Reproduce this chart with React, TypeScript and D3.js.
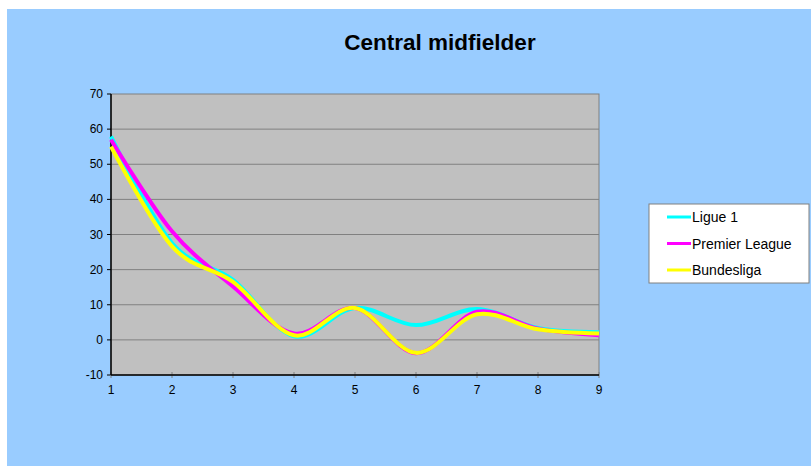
import React from 'react';
import * as d3 from 'd3';

const categories = [1, 2, 3, 4, 5, 6, 7, 8, 9];
const ligue1 = [57.9, 27.6, 17.1, 1.0, 9.1, 4.2, 8.8, 3.4, 2.2];
const premierLeague = [57, 30.9, 15.2, 1.8, 9.1, -3.8, 8.0, 3.2, 1.3];
const bundesliga = [55, 26.6, 16.5, 1.3, 9.1, -3.7, 7.3, 3.0, 1.8];
const yTicks = [-10, 0, 10, 20, 30, 40, 50, 60, 70];

const seriesList = [
  { name: 'Ligue 1', values: ligue1, color: '#00FFFF' },
  { name: 'Premier League', values: premierLeague, color: '#FF00FF' },
  { name: 'Bundesliga', values: bundesliga, color: '#FFFF00' },
];

const W = 804;
const H = 457;
const offX = 7;
const offY = 9;
const plot = { left: 111 - offX, top: 94 - offY, right: 599 - offX, bottom: 375 - offY };

const App: React.FC = () => {
  const x = d3.scaleLinear().domain([1, 9]).range([plot.left, plot.right]);
  const y = d3.scaleLinear().domain([-10, 70]).range([plot.bottom, plot.top]);
  const line = d3
    .line<number>()
    .x((_, i) => x(categories[i]))
    .y(d => y(d))
    .curve(d3.curveCardinal.tension(0));

  const font = "'Liberation Sans', Arial, sans-serif";
  const lg = { x: 649 - offX, y: 204 - offY, w: 160, h: 79 };

  return (
    <div style={{ position: 'fixed', left: offX, top: offY, width: W, height: H }}>
      <svg width={W} height={H} style={{ display: 'block' }} fontFamily={font}>
        <rect x={0} y={0} width={W} height={H} fill="#99CCFF" />
        <text x={440 - offX} y={50 - offY} textAnchor="middle" fontSize={22.5} fontWeight="bold" fill="#000">
          Central midfielder
        </text>
        <rect
          x={plot.left}
          y={plot.top}
          width={plot.right - plot.left}
          height={plot.bottom - plot.top}
          fill="#C0C0C0"
          stroke="#808080"
          strokeWidth={1}
        />
        {yTicks.map(t => (
          <g key={t}>
            {t > -10 && t < 70 && (
              <line x1={plot.left} x2={plot.right} y1={y(t)} y2={y(t)} stroke="#808080" strokeWidth={1} />
            )}
            <line x1={plot.left - 4} x2={plot.left} y1={y(t)} y2={y(t)} stroke="#000" />
            <text x={plot.left - 8} y={y(t) + 4} textAnchor="end" fontSize={12} fill="#000">
              {t}
            </text>
          </g>
        ))}
        {categories.map(c => (
          <g key={c}>
            <line x1={x(c)} x2={x(c)} y1={plot.bottom - 3} y2={plot.bottom + 3} stroke="#808080" />
            <text x={x(c)} y={plot.bottom + 19} textAnchor="middle" fontSize={12} fill="#000">
              {c}
            </text>
          </g>
        ))}
        <line x1={plot.left} x2={plot.left} y1={plot.top} y2={plot.bottom} stroke="#000" strokeWidth={1.5} />
        <line x1={plot.left} x2={plot.right} y1={plot.bottom} y2={plot.bottom} stroke="#000" strokeWidth={1.5} />
        {seriesList.map(s => (
          <path key={s.name} d={line(s.values) || ''} fill="none" stroke={s.color} strokeWidth={4} />
        ))}
        <rect x={lg.x} y={lg.y} width={lg.w} height={lg.h} fill="#fff" stroke="#808080" />
        {seriesList.map((s, i) => {
          const ly = lg.y + 13 + i * 26.5;
          return (
            <g key={s.name}>
              <line x1={lg.x + 18} x2={lg.x + 42} y1={ly} y2={ly} stroke={s.color} strokeWidth={3} />
              <text x={lg.x + 43} y={ly + 5} fontSize={14} fill="#000">
                {s.name}
              </text>
            </g>
          );
        })}
      </svg>
    </div>
  );
};

export default App;
